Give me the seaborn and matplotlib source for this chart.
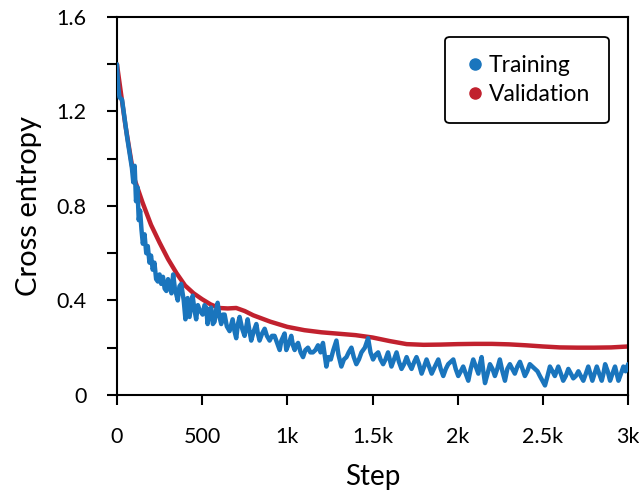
import matplotlib
matplotlib.use("Agg")
import matplotlib.pyplot as plt
import seaborn as sns
import pandas as pd
from matplotlib.lines import Line2D
from matplotlib.ticker import MultipleLocator

# values
train_steps = [0, 8, 15, 30, 45, 60, 75, 88, 96, 104, 112, 120, 128, 136, 144, 152, 162, 172, 181, 191,
               200, 210, 220, 230, 240, 250, 260, 270, 280, 290, 300, 310, 320, 330, 340, 357, 367, 377, 392, 402,
               415, 426, 444, 455, 465, 475, 485, 503, 514, 524, 532, 543, 553, 563, 573, 582, 591, 602, 612, 622,
               632, 645, 661, 679, 690, 700, 710, 720, 735, 749, 767, 778, 788, 803, 818, 827, 837, 852, 867, 880,
               896, 910, 925, 940, 955, 965, 984, 994, 1010, 1023, 1033, 1043, 1053, 1063, 1078, 1092, 1106, 1121, 1135, 1150,
               1165, 1180, 1195, 1209, 1219, 1229, 1240, 1255, 1270, 1288, 1300, 1317, 1332, 1347, 1360, 1376, 1390, 1405, 1420, 1435,
               1455, 1474, 1488, 1503, 1518, 1533, 1547, 1562, 1576, 1591, 1611, 1626, 1641, 1655, 1670, 1685, 1700, 1715, 1729, 1745,
               1758, 1773, 1788, 1803, 1817, 1832, 1847, 1866, 1886, 1900, 1915, 1930, 1944, 1959, 1974, 1988, 2003, 2018, 2032, 2047,
               2062, 2076, 2091, 2106, 2121, 2130, 2140, 2150, 2160, 2175, 2189, 2204, 2218, 2232, 2247, 2262, 2277, 2291, 2306, 2320,
               2335, 2350, 2365, 2380, 2394, 2408, 2423, 2438, 2453, 2468, 2482, 2497, 2512, 2527, 2541, 2556, 2570, 2580, 2590, 2605,
               2619, 2634, 2649, 2664, 2678, 2693, 2708, 2722, 2737, 2752, 2766, 2778, 2790, 2803, 2816, 2830, 2845, 2855, 2865, 2880,
               2894, 2908, 2923, 2933, 2943, 2958, 2972, 2985, 3000]
train_loss = [1.40, 1.30, 1.26, 1.25, 1.17, 1.09, 1.02, 0.96, 0.90, 0.97, 0.82, 0.88, 0.74, 0.78, 0.70, 0.64, 0.68, 0.60, 0.63, 0.56,
              0.59, 0.53, 0.56, 0.49, 0.48, 0.51, 0.47, 0.50, 0.45, 0.44, 0.49, 0.46, 0.43, 0.51, 0.45, 0.40, 0.46, 0.47, 0.40, 0.32,
              0.41, 0.33, 0.42, 0.36, 0.32, 0.38, 0.36, 0.34, 0.38, 0.37, 0.30, 0.36, 0.37, 0.30, 0.31, 0.36, 0.39, 0.33, 0.30, 0.34,
              0.34, 0.29, 0.27, 0.32, 0.27, 0.24, 0.30, 0.33, 0.28, 0.25, 0.32, 0.27, 0.23, 0.27, 0.30, 0.26, 0.23, 0.26, 0.28, 0.25,
              0.23, 0.25, 0.25, 0.22, 0.19, 0.23, 0.26, 0.19, 0.22, 0.25, 0.21, 0.19, 0.21, 0.22, 0.18, 0.16, 0.19, 0.20, 0.18, 0.18,
              0.19, 0.21, 0.18, 0.22, 0.17, 0.12, 0.16, 0.15, 0.19, 0.23, 0.17, 0.12, 0.15, 0.16, 0.18, 0.20, 0.16, 0.13, 0.15, 0.18,
              0.20, 0.24, 0.18, 0.15, 0.17, 0.18, 0.15, 0.13, 0.15, 0.18, 0.12, 0.15, 0.18, 0.14, 0.11, 0.13, 0.16, 0.13, 0.11, 0.14,
              0.16, 0.13, 0.09, 0.12, 0.15, 0.12, 0.09, 0.12, 0.15, 0.11, 0.08, 0.11, 0.13, 0.14, 0.15, 0.11, 0.08, 0.10, 0.12, 0.09,
              0.06, 0.11, 0.15, 0.12, 0.09, 0.13, 0.16, 0.10, 0.05, 0.09, 0.13, 0.11, 0.08, 0.11, 0.15, 0.10, 0.06, 0.11, 0.13, 0.11,
              0.09, 0.12, 0.14, 0.11, 0.08, 0.10, 0.13, 0.12, 0.11, 0.10, 0.08, 0.06, 0.04, 0.08, 0.12, 0.10, 0.08, 0.10, 0.12, 0.09,
              0.06, 0.08, 0.11, 0.09, 0.07, 0.08, 0.10, 0.08, 0.06, 0.09, 0.12, 0.09, 0.06, 0.09, 0.12, 0.09, 0.06, 0.09, 0.13, 0.10,
              0.06, 0.09, 0.12, 0.09, 0.06, 0.09, 0.12, 0.10, 0.13]

val_steps = [0, 50, 100, 150, 200, 250, 300, 350, 400, 450, 500, 550, 600, 650, 700, 750, 800, 900, 1000, 1100,
             1200, 1300, 1400, 1500, 1600, 1700, 1800, 1900, 2000, 2100, 2200, 2300, 2400, 2500, 2600, 2700, 2800, 2900, 3000]
val_loss = [1.40, 1.14, 0.92, 0.815, 0.72, 0.645, 0.575, 0.515, 0.463, 0.43, 0.405, 0.383, 0.368, 0.366, 0.368, 0.355, 0.337, 0.31, 0.288, 0.274,
            0.265, 0.259, 0.253, 0.243, 0.228, 0.215, 0.212, 0.213, 0.215, 0.216, 0.216, 0.214, 0.21, 0.205, 0.201, 0.200, 0.200, 0.201, 0.205]

x_ticks = [0, 500, 1000, 1500, 2000, 2500, 3000]
x_tick_labels = ["0", "500", "1k", "1.5k", "2k", "2.5k", "3k"]
y_ticks = [0, 0.4, 0.8, 1.2, 1.6]
y_tick_labels = ["0", "0.4", "0.8", "1.2", "1.6"]

blue = "#1a75bd"
red = "#c1212e"

sns.set_style("ticks")
plt.rcParams["font.family"] = ["Lato", "DejaVu Sans"]
plt.rcParams["text.color"] = "black"
plt.rcParams["axes.labelcolor"] = "black"
plt.rcParams["xtick.color"] = "black"
plt.rcParams["ytick.color"] = "black"

train = pd.DataFrame({"step": train_steps, "loss": train_loss})
val = pd.DataFrame({"step": val_steps, "loss": val_loss})

fig = plt.figure(figsize=(6.39, 4.93), dpi=100)
ax = fig.add_axes([0.183, 0.199, 0.8, 0.7665])

sns.lineplot(data=val, x="step", y="loss", color=red, linewidth=3.2, ax=ax, zorder=2)
sns.lineplot(data=train, x="step", y="loss", color=blue, linewidth=3.2, ax=ax, zorder=3)

ax.set_xlim(0, 3000)
ax.set_ylim(0, 1.6)
ax.set_xticks(x_ticks)
ax.set_xticklabels(x_tick_labels)
ax.set_yticks(y_ticks)
ax.set_yticklabels(y_tick_labels)
ax.yaxis.set_minor_locator(MultipleLocator(0.2))
ax.tick_params(axis="both", which="both", direction="out", length=7, width=1.5,
               labelsize=15.5, color="black", labelcolor="black")
ax.tick_params(axis="x", pad=16)
ax.tick_params(axis="y", pad=15)
for s in ax.spines.values():
    s.set_linewidth(1.5)
    s.set_color("black")

ax.set_xlabel("Step", fontsize=20, labelpad=12, color="black")
ax.set_ylabel("Cross entropy", fontsize=21, labelpad=10, color="black")

handles = [Line2D([], [], marker="o", linestyle="none", color=blue, markersize=8),
           Line2D([], [], marker="o", linestyle="none", color=red, markersize=8)]
leg = ax.legend(handles, ["Training", "Validation"], loc="upper right",
                bbox_to_anchor=(0.962, 0.948), fontsize=16.5, frameon=True,
                handletextpad=0.1, handlelength=1.0, borderpad=0.8, labelspacing=0.35,
                borderaxespad=0)
leg.get_frame().set_edgecolor("black")
leg.get_frame().set_linewidth(1.3)
leg.get_frame().set_alpha(1)
for t in leg.get_texts():
    t.set_color("black")

fig.savefig("out.png", dpi=100)
